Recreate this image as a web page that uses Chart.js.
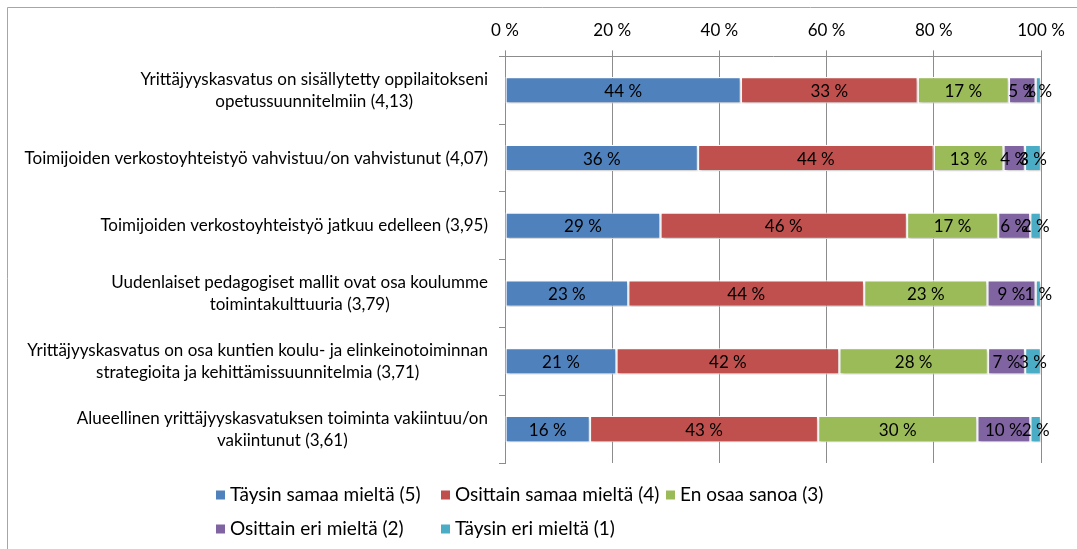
<!DOCTYPE html>
<html>
<head>
<meta charset="utf-8">
<script src="https://cdn.jsdelivr.net/npm/chart.js@4.4.1/dist/chart.umd.min.js"></script>
<style>
  html, body { margin: 0; padding: 0; background: #fff; }
  #wrap { position: relative; width: 1077px; height: 549px; }
</style>
</head>
<body>
<div id="wrap"><canvas id="c" width="1077" height="549"></canvas></div>
<script>
// ---- Data ----
const categories = [
  ["Yrittäjyyskasvatus on sisällytetty oppilaitokseni", "opetussuunnitelmiin (4,13)"],
  ["Toimijoiden verkostoyhteistyö vahvistuu/on vahvistunut (4,07)"],
  ["Toimijoiden verkostoyhteistyö jatkuu edelleen (3,95)"],
  ["Uudenlaiset pedagogiset mallit ovat osa koulumme", "toimintakulttuuria (3,79)"],
  ["Yrittäjyyskasvatus on osa kuntien koulu- ja elinkeinotoiminnan", "strategioita ja kehittämissuunnitelmia (3,71)"],
  ["Alueellinen yrittäjyyskasvatuksen toiminta vakiintuu/on", "vakiintunut (3,61)"]
];
const seriesNames = ["Täysin samaa mieltä (5)", "Osittain samaa mieltä (4)", "En osaa sanoa (3)", "Osittain eri mieltä (2)", "Täysin eri mieltä (1)"];
const taysinSamaa = [44, 36, 29, 23, 21, 16];
const osittainSamaa = [33, 44, 46, 44, 42, 43];
const enOsaaSanoa = [17, 13, 17, 23, 28, 30];
const osittainEri = [5, 4, 6, 9, 7, 10];
const taysinEri = [1, 3, 2, 1, 3, 2];
const xTickValues = [0, 20, 40, 60, 80, 100];

// ---- Styling ----
const colors = ["#4F81BD", "#C0504D", "#9BBB59", "#8064A2", "#4BACC6"];
const FONT = "Lato, 'Open Sans', sans-serif";
const FS = 17;
const LEG_FS = 19;
const gridColor = "#8c8c8c";

const rawSeries = [taysinSamaa, osittainSamaa, enOsaaSanoa, osittainEri, taysinEri];
// 100% stacked: each row normalised to its own total
const rowTotals = categories.map((_, i) => rawSeries.reduce((s, arr) => s + arr[i], 0));

const datasets = rawSeries.map((arr, k) => ({
  label: seriesNames[k],
  raw: arr,
  data: arr.map((v, i) => v / rowTotals[i] * 100),
  backgroundColor: colors[k],
  borderColor: "#ffffff",
  borderWidth: 1.2,
  borderSkipped: false,
  categoryPercentage: 1,
  barPercentage: 0.39
}));

const framePlugin = {
  id: "frame",
  beforeDraw(chart) {
    const ctx = chart.ctx;
    ctx.save();
    ctx.fillStyle = "#fff";
    ctx.fillRect(0, 0, chart.width, chart.height);
    ctx.strokeStyle = "#a6a6a6";
    ctx.lineWidth = 1;
    ctx.beginPath();
    ctx.moveTo(7.5, chart.height + 5);
    ctx.lineTo(7.5, 7.5);
    ctx.lineTo(chart.width + 5, 7.5);
    ctx.stroke();
    ctx.restore();
  }
};

const shadowPlugin = {
  id: "shadow",
  beforeDatasetsDraw(chart) {
    const ctx = chart.ctx;
    ctx.save();
    ctx.shadowColor = "rgba(0,0,0,0.22)";
    ctx.shadowBlur = 3;
    ctx.shadowOffsetX = 1;
    ctx.shadowOffsetY = 2;
  },
  afterDatasetsDraw(chart) {
    chart.ctx.restore();
  }
};

const labelsPlugin = {
  id: "labelsPlugin",
  afterDraw(chart) {
    const ctx = chart.ctx;
    ctx.save();
    ctx.font = FS + "px " + FONT;
    ctx.fillStyle = "#000";
    ctx.textAlign = "center";
    ctx.textBaseline = "middle";
    // data labels
    chart.data.datasets.forEach((ds, di) => {
      const meta = chart.getDatasetMeta(di);
      meta.data.forEach((el, i) => {
        const cx = (el.x + el.base) / 2;
        ctx.fillText(ds.raw[i] + " %", cx, el.y + 1);
      });
    });
    // category labels: block right-aligned, lines centred within block
    const yScale = chart.scales.y;
    const rightEdge = chart.chartArea.left - 17;
    const lineH = 22;
    categories.forEach((lines, i) => {
      const w = Math.max(...lines.map(l => ctx.measureText(l).width));
      const cx = rightEdge - w / 2;
      const cy = yScale.getPixelForValue(i);
      const y0 = cy - (lines.length - 1) * lineH / 2;
      lines.forEach((l, j) => ctx.fillText(l, cx, y0 + j * lineH));
    });
    // legend in grid
    ctx.font = LEG_FS + "px " + FONT;
    const legLeft = 216;
    const colW = 225;
    const rowY = [495, 529];
    const box = 9;
    ctx.textAlign = "left";
    chart.data.datasets.forEach((ds, k) => {
      const col = k % 3, row = Math.floor(k / 3);
      const x = legLeft + col * colW;
      const y = rowY[row];
      ctx.fillStyle = ds.backgroundColor;
      ctx.fillRect(x, y - box / 2, box, box);
      ctx.fillStyle = "#000";
      ctx.fillText(ds.label, x + 14, y);
    });
    ctx.restore();
  }
};

new Chart(document.getElementById("c"), {
  type: "bar",
  data: { labels: categories.map(c => c.join(" ")), datasets },
  options: {
    indexAxis: "y",
    responsive: false,
    animation: false,
    layout: { padding: { left: 499, right: 36, top: 10, bottom: 86 } },
    plugins: { legend: { display: false }, tooltip: { enabled: false } },
    scales: {
      x: {
        type: "linear",
        position: "top",
        stacked: true,
        min: 0, max: 100,
        afterBuildTicks(scale) { scale.ticks = xTickValues.map(v => ({ value: v })); },
        ticks: {
          callback: v => v + " %",
          color: "#000",
          font: { family: FONT, size: FS },
          padding: 10,
          maxRotation: 0
        },
        grid: { color: gridColor, lineWidth: 1, tickLength: 6, drawTicks: true },
        border: { display: true, color: gridColor, width: 1 }
      },
      y: {
        stacked: true,
        ticks: { display: false },
        grid: { display: true, drawOnChartArea: false, drawTicks: true, tickLength: 6, color: gridColor, offset: true },
        border: { display: true, color: gridColor, width: 1 }
      }
    }
  },
  plugins: [framePlugin, shadowPlugin, labelsPlugin]
});
</script>
</body>
</html>
